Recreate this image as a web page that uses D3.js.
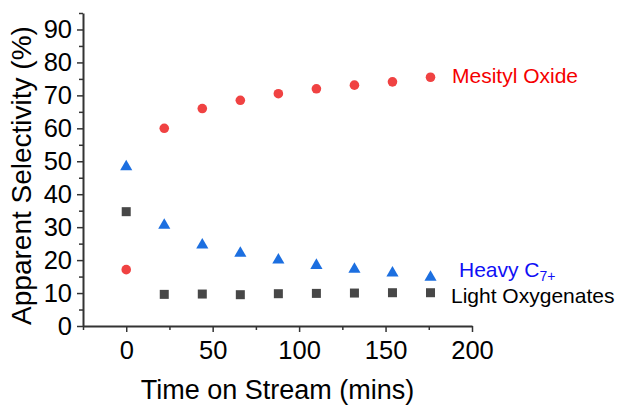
<!DOCTYPE html>
<html>
<head>
<meta charset="utf-8">
<script src="https://cdn.jsdelivr.net/npm/d3@7"></script>
<style>
  html, body { margin: 0; padding: 0; background: #fff; }
  svg { display: block; font-family: Arial, "Liberation Sans", sans-serif; }
</style>
</head>
<body>
<svg id="chart" width="620" height="406"></svg>
<script>
// Time on stream (mins)
const times = [0, 22, 44, 66, 88, 110, 132, 154, 176];
// Apparent selectivity (%) per product group
const mesitylOxide = [17.1, 60.0, 66.0, 68.5, 70.5, 72.0, 73.1, 74.1, 75.5];
const heavyC7 = [48.3, 30.6, 24.6, 22.1, 20.0, 18.4, 17.2, 16.1, 14.8];
const lightOxygenates = [34.7, 9.6, 9.7, 9.5, 9.8, 9.9, 10.0, 10.1, 10.1];
const xTicks = [0, 50, 100, 150, 200];
const yTicks = [0, 10, 20, 30, 40, 50, 60, 70, 80, 90];

const svg = d3.select("#chart");
const plotL = 83, plotR = 472, plotT = 13, plotB = 326;
const axisColor = "#333";
const fontFamily = "Arial, 'Liberation Sans', sans-serif";

const x = d3.scaleLinear().domain([-25, 200]).range([plotL, plotR]);
const y = d3.scaleLinear().domain([0, 95]).range([plotB, plotT]);

// Minor ticks
const xMinor = d3.range(-25, 201, 25).filter(v => !xTicks.includes(v));
const yMinor = d3.range(5, 96, 10);

const gx = svg.append("g").attr("transform", `translate(0,${plotB})`);
gx.call(d3.axisBottom(x).tickValues(xMinor).tickSize(4).tickFormat(""));
gx.select(".domain").remove();
gx.selectAll(".tick line").attr("stroke", axisColor).attr("stroke-width", 1.5);
const gxMaj = svg.append("g").attr("transform", `translate(0,${plotB})`)
  .call(d3.axisBottom(x).tickValues(xTicks).tickSize(6).tickPadding(9).tickSizeOuter(0));
gxMaj.select(".domain").attr("stroke", axisColor).attr("stroke-width", 2);
gxMaj.selectAll(".tick line").attr("stroke", axisColor).attr("stroke-width", 1.5);
gxMaj.selectAll(".tick text").attr("font-size", 25.5).attr("fill", "#000")
  .attr("font-family", fontFamily);

const gy = svg.append("g").attr("transform", `translate(${plotL},0)`);
gy.call(d3.axisLeft(y).tickValues(yMinor).tickSize(4).tickFormat(""));
gy.select(".domain").remove();
gy.selectAll(".tick line").attr("stroke", axisColor).attr("stroke-width", 1.5);
const gyMaj = svg.append("g").attr("transform", `translate(${plotL},0)`)
  .call(d3.axisLeft(y).tickValues(yTicks).tickSize(6).tickPadding(5).tickSizeOuter(0));
gyMaj.select(".domain").attr("stroke", axisColor).attr("stroke-width", 2);
gyMaj.selectAll(".tick line").attr("stroke", axisColor).attr("stroke-width", 1.5);
gyMaj.selectAll(".tick text").attr("font-size", 25.5).attr("fill", "#000")
  .attr("font-family", fontFamily);

// Axis titles
svg.append("text")
  .attr("x", (plotL + plotR) / 2).attr("y", 399)
  .attr("text-anchor", "middle").attr("font-size", 27).attr("fill", "#000")
  .text("Time on Stream (mins)");
svg.append("text")
  .attr("transform", `translate(31,${(plotT + plotB) / 2 + 6}) rotate(-90)`)
  .attr("text-anchor", "middle").attr("font-size", 28).attr("fill", "#000")
  .text("Apparent Selectivity (%)");

// Series markers
const pts = arr => times.map((t, i) => ({ t, v: arr[i] }));

svg.append("g").selectAll("rect").data(pts(lightOxygenates)).join("rect")
  .attr("x", d => x(d.t) - 4.5).attr("y", d => y(d.v) - 4.5)
  .attr("width", 9).attr("height", 9).attr("fill", "#474747");

const tri = d3.symbol().type(d3.symbolTriangle).size(64);
svg.append("g").selectAll("path").data(pts(heavyC7)).join("path")
  .attr("transform", d => `translate(${x(d.t)},${y(d.v)})`)
  .attr("d", tri).attr("fill", "#1c6fe0");

svg.append("g").selectAll("circle").data(pts(mesitylOxide)).join("circle")
  .attr("cx", d => x(d.t)).attr("cy", d => y(d.v))
  .attr("r", 4.8).attr("fill", "#f04242");

// Series labels
svg.append("text").attr("x", 452).attr("y", 83)
  .attr("font-size", 21).attr("fill", "#f50000").text("Mesityl Oxide");
const heavy = svg.append("text").attr("x", 459).attr("y", 277)
  .attr("font-size", 21).attr("fill", "#1010f5");
heavy.append("tspan").text("Heavy C");
heavy.append("tspan").attr("font-size", 14).attr("dy", 4).text("7+");
svg.append("text").attr("x", 451).attr("y", 303)
  .attr("font-size", 21).attr("fill", "#000").text("Light Oxygenates");
</script>
</body>
</html>
